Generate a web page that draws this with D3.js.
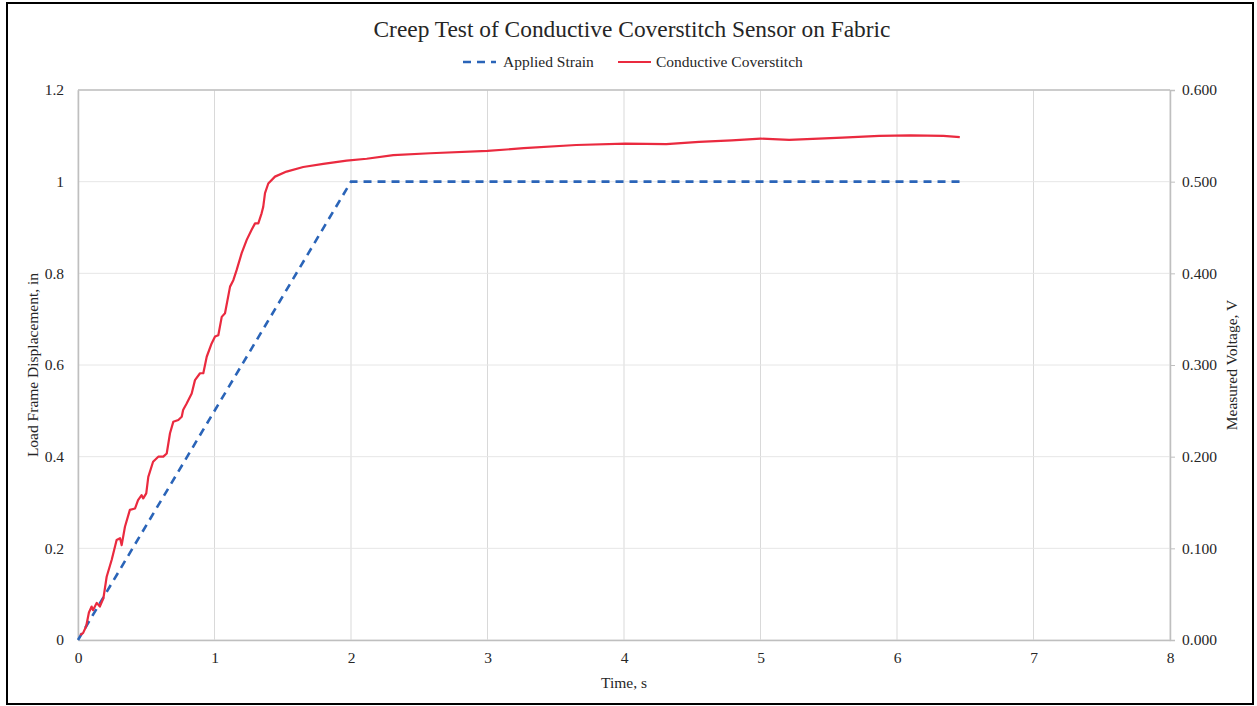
<!DOCTYPE html>
<html><head><meta charset="utf-8">
<script src="https://cdn.jsdelivr.net/npm/d3@7"></script>
<style>body{margin:0;background:#fff}svg text{font-family:"Liberation Serif","Times New Roman",serif;fill:#262626}</style>
</head><body><svg id="c" width="1257" height="706"></svg>
<script>
const title = "Creep Test of Conductive Coverstitch Sensor on Fabric";
const xTicks = [0,1,2,3,4,5,6,7,8];
const yLeftTicks = [0,0.2,0.4,0.6,0.8,1,1.2];
const yRightTicks = [0,0.1,0.2,0.3,0.4,0.5,0.6];
const strainTime = [0, 2, 6.46];
const strainDisp = [0, 1, 1];
const voltTime = [0.015,0.037,0.06,0.08,0.1,0.11,0.137,0.16,0.186,0.21,0.247,0.283,0.308,0.32,0.344,0.38,0.418,0.44,0.466,0.478,0.5,0.515,0.55,0.588,0.625,0.65,0.674,0.698,0.735,0.76,0.77,0.796,0.833,0.857,0.894,0.918,0.943,0.979,1.004,1.028,1.053,1.077,1.114,1.138,1.162,1.199,1.236,1.272,1.297,1.321,1.345,1.357,1.37,1.394,1.443,1.528,1.65,1.797,1.968,2.115,2.31,2.58,3.0,3.265,3.65,4.01,4.31,4.55,4.79,5.0,5.21,5.6,5.87,6.1,6.34,6.46];
const voltValue = [0.0055,0.0075,0.015,0.03,0.0365,0.0325,0.0405,0.0365,0.0455,0.069,0.0875,0.109,0.111,0.1035,0.1235,0.142,0.1435,0.1525,0.158,0.1545,0.16,0.178,0.1945,0.2,0.2,0.2035,0.2255,0.238,0.24,0.2435,0.251,0.258,0.269,0.2835,0.291,0.291,0.309,0.3235,0.331,0.3325,0.3525,0.3565,0.3855,0.3925,0.4035,0.422,0.4365,0.4475,0.4545,0.4545,0.4655,0.4725,0.4875,0.498,0.5055,0.511,0.516,0.5195,0.523,0.525,0.529,0.531,0.5335,0.5365,0.54,0.5415,0.541,0.5435,0.545,0.547,0.5455,0.548,0.55,0.5505,0.55,0.5485];

const svg = d3.select("#c");
const L = 78, R = 1170, T = 90, B = 640;
const FS = 15.5;
const x = d3.scaleLinear().domain([0,8]).range([L,R]);
const yL = d3.scaleLinear().domain([0,1.2]).range([B,T]);
const yR = d3.scaleLinear().domain([0,0.6]).range([B,T]);

svg.append("rect").attr("x",7).attr("y",3).attr("width",1246).attr("height",701)
  .attr("fill","#fff").attr("stroke","#000").attr("stroke-width",2);

// gridlines
svg.append("g").selectAll("line").data(xTicks).join("line")
  .attr("x1",d=>x(d)).attr("x2",d=>x(d)).attr("y1",T).attr("y2",B)
  .attr("stroke","#d9d9d9").attr("stroke-width",1);
svg.append("g").selectAll("line").data(yLeftTicks).join("line")
  .attr("x1",L).attr("x2",R).attr("y1",d=>yL(d)).attr("y2",d=>yL(d))
  .attr("stroke","#e6e6e6").attr("stroke-width",1);

// axes
const gx = svg.append("g").attr("transform",`translate(0,${B})`)
  .call(d3.axisBottom(x).tickValues(xTicks).tickFormat(d3.format("d")).tickSize(0).tickPadding(12));
const gl = svg.append("g").attr("transform",`translate(${L},0)`)
  .call(d3.axisLeft(yL).tickValues(yLeftTicks).tickFormat(d=>String(+d.toFixed(1))).tickSize(0).tickPadding(14));
const gr = svg.append("g").attr("transform",`translate(${R},0)`)
  .call(d3.axisRight(yR).tickValues(yRightTicks).tickFormat(d3.format(".3f")).tickSize(5).tickPadding(7));
[gx,gl,gr].forEach(g=>{
  g.select(".domain").attr("stroke","#bfbfbf").attr("stroke-width",1.5);
  g.selectAll(".tick line").attr("stroke","#bfbfbf");
  g.selectAll(".tick text").attr("font-size",FS).attr("fill","#404040")
    .attr("font-family",'"Liberation Serif","Times New Roman",serif');
});
svg.append("line").attr("x1",L).attr("x2",R).attr("y1",T).attr("y2",T).attr("stroke","#bfbfbf").attr("stroke-width",1.5);

// series
const strainData = strainTime.map((t,i)=>[t,strainDisp[i]]);
const voltData = voltTime.map((t,i)=>[t,voltValue[i]]);
svg.append("path").datum(strainData)
  .attr("d", d3.line().x(d=>x(d[0])).y(d=>yL(d[1])))
  .attr("fill","none").attr("stroke","#2a64b8").attr("stroke-width",2.6).attr("stroke-dasharray","8,6");
svg.append("path").datum(voltData)
  .attr("d", d3.line().x(d=>x(d[0])).y(d=>yR(d[1])))
  .attr("fill","none").attr("stroke","#ea2a3f").attr("stroke-width",2.2).attr("stroke-linejoin","round");

// title
svg.append("text").attr("x",632).attr("y",37).attr("text-anchor","middle").attr("font-size",23.4).text(title);

// legend
const lg = svg.append("g");
lg.append("line").attr("x1",463).attr("x2",496).attr("y1",62).attr("y2",62)
  .attr("stroke","#2a64b8").attr("stroke-width",2.6).attr("stroke-dasharray","8,6");
lg.append("text").attr("x",503).attr("y",67).attr("font-size",FS).text("Applied Strain");
lg.append("line").attr("x1",618).attr("x2",651).attr("y1",62).attr("y2",62)
  .attr("stroke","#ea2a3f").attr("stroke-width",2.2);
lg.append("text").attr("x",656).attr("y",67).attr("font-size",FS).text("Conductive Coverstitch");

// axis titles
svg.append("text").attr("x",(L+R)/2).attr("y",688).attr("text-anchor","middle").attr("font-size",FS).text("Time, s");
svg.append("text").attr("transform",`translate(38,${(T+B)/2}) rotate(-90)`).attr("text-anchor","middle").attr("font-size",FS).text("Load Frame Displacement, in");
svg.append("text").attr("transform",`translate(1237,${(T+B)/2}) rotate(-90)`).attr("text-anchor","middle").attr("font-size",FS).text("Measured Voltage, V");
</script></body></html>
